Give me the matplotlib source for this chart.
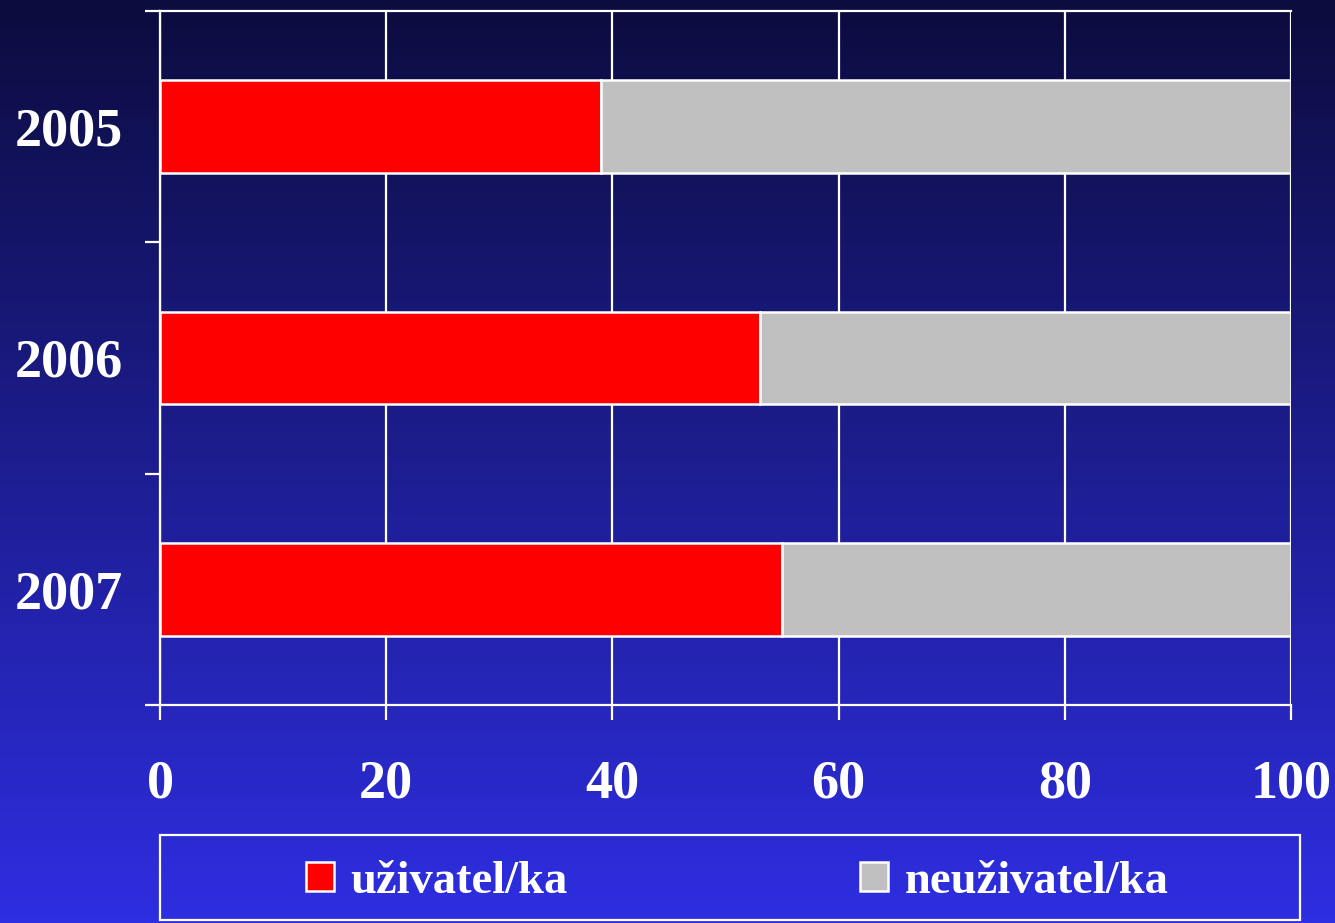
import matplotlib
matplotlib.use("Agg")
import matplotlib.pyplot as plt
import numpy as np
from matplotlib.patches import Rectangle
from matplotlib.colors import LinearSegmentedColormap

# Data
years = ["2005", "2006", "2007"]
users = [39, 53, 55]
non_users = [61, 47, 45]
series_labels = ["uživatel/ka", "neuživatel/ka"]
x_ticks = [0, 20, 40, 60, 80, 100]

plt.rcParams["font.family"] = ["Liberation Serif", "DejaVu Serif"]
plt.rcParams["font.weight"] = "bold"

fig = plt.figure(figsize=(13.35, 9.23), dpi=100)

# gradient background
bg = fig.add_axes([0, 0, 1, 1], zorder=-10)
grad = np.linspace(0, 1, 256).reshape(-1, 1)
cmap = LinearSegmentedColormap.from_list("bg", ["#0c0c3e", "#2e2ee2"])
bg.imshow(grad, aspect="auto", cmap=cmap, extent=[0, 1, 0, 1], origin="upper")
bg.axis("off")

ax = fig.add_axes([0.1199, 0.2362, 0.8472, 0.7519])
ax.patch.set_alpha(0)

ypos = np.arange(len(years))
ax.barh(ypos, users, height=0.4, color="#ff0000", edgecolor="white", linewidth=1.8,
        label=series_labels[0], zorder=3)
ax.barh(ypos, non_users, left=users, height=0.4, color="#c0c0c0", edgecolor="white",
        linewidth=1.8, label=series_labels[1], zorder=3)

ax.set_xlim(0, 100)
ax.set_ylim(2.5, -0.5)
ax.set_xticks(x_ticks)
ax.set_xticklabels([str(t) for t in x_ticks])
ax.set_yticks(ypos)
ax.set_yticklabels(years)
ax.set_yticks([-0.5, 0.5, 1.5, 2.5], minor=True)

ax.grid(axis="x", color="white", linewidth=1.6, zorder=1)
for s in ax.spines.values():
    s.set_color("white")
    s.set_linewidth(1.6)
ax.spines["right"].set_visible(False)

ax.tick_params(axis="x", colors="white", length=11, width=1.6, pad=28, labelsize=39)
ax.tick_params(axis="y", which="major", length=0, pad=27, labelsize=39, labelcolor="white")
ax.tick_params(axis="y", which="minor", length=11, width=1.6, color="white")
for lbl in ax.get_xticklabels() + ax.get_yticklabels():
    lbl.set_fontweight("bold")

# legend box
fig.patches.append(Rectangle((160 / 1335, 3 / 923), 1140 / 1335, 85 / 923,
                             transform=fig.transFigure, fill=False,
                             edgecolor="white", linewidth=1.6))
leg = fig.legend(loc="center", bbox_to_anchor=(737 / 1335, 41 / 923), ncol=2,
                 frameon=False, handlelength=0.6, handleheight=0.6,
                 handletextpad=0.35, columnspacing=6.3,
                 prop={"weight": "bold", "size": 33.5})
for t in leg.get_texts():
    t.set_color("white")

fig.savefig("out.png", dpi=100)
